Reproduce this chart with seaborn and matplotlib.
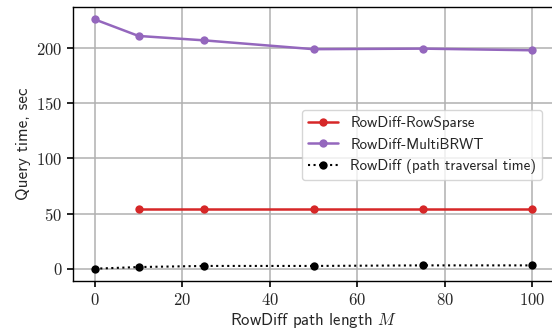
import matplotlib
matplotlib.use("Agg")
import matplotlib.pyplot as plt
import seaborn as sns

path_length = [0, 10, 25, 50, 75, 100]
multibrwt = [226, 211, 207, 199, 199.5, 198]
rowsparse_len = [10, 25, 50, 75, 100]
rowsparse = [54, 54, 54, 54, 54]
traversal = [0, 1.5, 2.5, 2.5, 3, 3]

sns.set_style("ticks")
plt.rcParams["mathtext.fontset"] = "cm"
plt.rcParams["axes.formatter.use_mathtext"] = True

fig = plt.figure(figsize=(5.52, 3.30), dpi=100)
ax = fig.add_axes([0.132, 0.148, 0.872, 0.831])

sns.lineplot(x=rowsparse_len, y=rowsparse, ax=ax, color="#d62728", marker="o",
             markersize=6, markeredgewidth=0, linewidth=1.8, label="RowDiff-RowSparse")
sns.lineplot(x=path_length, y=multibrwt, ax=ax, color="#9467bd", marker="o",
             markersize=6, markeredgewidth=0, linewidth=1.8, label="RowDiff-MultiBRWT")
sns.lineplot(x=path_length, y=traversal, ax=ax, color="black", marker="o",
             markersize=6, markeredgewidth=0, linewidth=1.5, linestyle=":",
             label="RowDiff (path traversal time)")

ax.set_xlim(-5, 105)
ax.set_xticks([0, 20, 40, 60, 80, 100])
ax.set_yticks([0, 50, 100, 150, 200])
ax.grid(True, color="#b0b0b0", linewidth=1.1)
ax.set_axisbelow(True)
for s in ax.spines.values():
    s.set_color("black")
    s.set_linewidth(1)
ax.tick_params(direction="out", length=4, width=1.2, color="black", labelsize=12)
for lab in ax.get_xticklabels() + ax.get_yticklabels():
    lab.set_family("cmr10")

ax.set_xlabel("RowDiff path length $M$", family="cmss10", fontsize=12, labelpad=2.5)
ax.set_ylabel("Query time, sec", family="cmss10", fontsize=12.3)

leg = ax.legend(loc="upper right", bbox_to_anchor=(0.975, 0.624), borderaxespad=0,
                prop={"family": "cmss10", "size": 10.8}, framealpha=0.8)

fig.savefig("out.png", dpi=100)
